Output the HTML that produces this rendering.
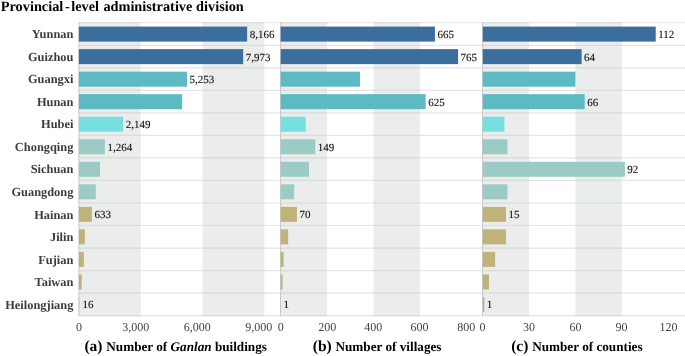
<!DOCTYPE html><html><head><meta charset="utf-8"><style>html,body{margin:0;padding:0;background:#fff;}body{width:685px;height:356px;overflow:hidden;}svg{display:block;will-change:transform;text-rendering:geometricPrecision;font-family:"Liberation Serif",serif;}</style></head><body>
<svg width="685" height="356" viewBox="0 0 685 356">
<rect x="0" y="0" width="685" height="356" fill="#fff"/>
<rect x="78.85" y="22.75" width="61.83" height="292.89" fill="#eaedec"/>
<rect x="202.51" y="22.75" width="61.83" height="292.89" fill="#eaedec"/>
<rect x="280.70" y="22.75" width="46.38" height="292.89" fill="#eaedec"/>
<rect x="373.46" y="22.75" width="46.38" height="292.89" fill="#eaedec"/>
<rect x="482.80" y="22.75" width="46.32" height="292.89" fill="#eaedec"/>
<rect x="575.44" y="22.75" width="46.32" height="292.89" fill="#eaedec"/>
<line x1="78.4" x2="685" y1="22.75" y2="22.75" stroke="#e5e5e5" stroke-width="1.2"/>
<line x1="78.85" x2="140.68" y1="22.75" y2="22.75" stroke="#dadddc" stroke-width="1.2"/>
<line x1="202.51" x2="264.34" y1="22.75" y2="22.75" stroke="#dadddc" stroke-width="1.2"/>
<line x1="280.70" x2="327.08" y1="22.75" y2="22.75" stroke="#dadddc" stroke-width="1.2"/>
<line x1="373.46" x2="419.84" y1="22.75" y2="22.75" stroke="#dadddc" stroke-width="1.2"/>
<line x1="482.80" x2="529.12" y1="22.75" y2="22.75" stroke="#dadddc" stroke-width="1.2"/>
<line x1="575.44" x2="621.76" y1="22.75" y2="22.75" stroke="#dadddc" stroke-width="1.2"/>
<line x1="78.4" x2="685" y1="45.28" y2="45.28" stroke="#e5e5e5" stroke-width="1.2"/>
<line x1="78.85" x2="140.68" y1="45.28" y2="45.28" stroke="#dadddc" stroke-width="1.2"/>
<line x1="202.51" x2="264.34" y1="45.28" y2="45.28" stroke="#dadddc" stroke-width="1.2"/>
<line x1="280.70" x2="327.08" y1="45.28" y2="45.28" stroke="#dadddc" stroke-width="1.2"/>
<line x1="373.46" x2="419.84" y1="45.28" y2="45.28" stroke="#dadddc" stroke-width="1.2"/>
<line x1="482.80" x2="529.12" y1="45.28" y2="45.28" stroke="#dadddc" stroke-width="1.2"/>
<line x1="575.44" x2="621.76" y1="45.28" y2="45.28" stroke="#dadddc" stroke-width="1.2"/>
<line x1="78.4" x2="685" y1="67.81" y2="67.81" stroke="#e5e5e5" stroke-width="1.2"/>
<line x1="78.85" x2="140.68" y1="67.81" y2="67.81" stroke="#dadddc" stroke-width="1.2"/>
<line x1="202.51" x2="264.34" y1="67.81" y2="67.81" stroke="#dadddc" stroke-width="1.2"/>
<line x1="280.70" x2="327.08" y1="67.81" y2="67.81" stroke="#dadddc" stroke-width="1.2"/>
<line x1="373.46" x2="419.84" y1="67.81" y2="67.81" stroke="#dadddc" stroke-width="1.2"/>
<line x1="482.80" x2="529.12" y1="67.81" y2="67.81" stroke="#dadddc" stroke-width="1.2"/>
<line x1="575.44" x2="621.76" y1="67.81" y2="67.81" stroke="#dadddc" stroke-width="1.2"/>
<line x1="78.4" x2="685" y1="90.34" y2="90.34" stroke="#e5e5e5" stroke-width="1.2"/>
<line x1="78.85" x2="140.68" y1="90.34" y2="90.34" stroke="#dadddc" stroke-width="1.2"/>
<line x1="202.51" x2="264.34" y1="90.34" y2="90.34" stroke="#dadddc" stroke-width="1.2"/>
<line x1="280.70" x2="327.08" y1="90.34" y2="90.34" stroke="#dadddc" stroke-width="1.2"/>
<line x1="373.46" x2="419.84" y1="90.34" y2="90.34" stroke="#dadddc" stroke-width="1.2"/>
<line x1="482.80" x2="529.12" y1="90.34" y2="90.34" stroke="#dadddc" stroke-width="1.2"/>
<line x1="575.44" x2="621.76" y1="90.34" y2="90.34" stroke="#dadddc" stroke-width="1.2"/>
<line x1="78.4" x2="685" y1="112.87" y2="112.87" stroke="#e5e5e5" stroke-width="1.2"/>
<line x1="78.85" x2="140.68" y1="112.87" y2="112.87" stroke="#dadddc" stroke-width="1.2"/>
<line x1="202.51" x2="264.34" y1="112.87" y2="112.87" stroke="#dadddc" stroke-width="1.2"/>
<line x1="280.70" x2="327.08" y1="112.87" y2="112.87" stroke="#dadddc" stroke-width="1.2"/>
<line x1="373.46" x2="419.84" y1="112.87" y2="112.87" stroke="#dadddc" stroke-width="1.2"/>
<line x1="482.80" x2="529.12" y1="112.87" y2="112.87" stroke="#dadddc" stroke-width="1.2"/>
<line x1="575.44" x2="621.76" y1="112.87" y2="112.87" stroke="#dadddc" stroke-width="1.2"/>
<line x1="78.4" x2="685" y1="135.40" y2="135.40" stroke="#e5e5e5" stroke-width="1.2"/>
<line x1="78.85" x2="140.68" y1="135.40" y2="135.40" stroke="#dadddc" stroke-width="1.2"/>
<line x1="202.51" x2="264.34" y1="135.40" y2="135.40" stroke="#dadddc" stroke-width="1.2"/>
<line x1="280.70" x2="327.08" y1="135.40" y2="135.40" stroke="#dadddc" stroke-width="1.2"/>
<line x1="373.46" x2="419.84" y1="135.40" y2="135.40" stroke="#dadddc" stroke-width="1.2"/>
<line x1="482.80" x2="529.12" y1="135.40" y2="135.40" stroke="#dadddc" stroke-width="1.2"/>
<line x1="575.44" x2="621.76" y1="135.40" y2="135.40" stroke="#dadddc" stroke-width="1.2"/>
<line x1="78.4" x2="685" y1="157.93" y2="157.93" stroke="#e5e5e5" stroke-width="1.2"/>
<line x1="78.85" x2="140.68" y1="157.93" y2="157.93" stroke="#dadddc" stroke-width="1.2"/>
<line x1="202.51" x2="264.34" y1="157.93" y2="157.93" stroke="#dadddc" stroke-width="1.2"/>
<line x1="280.70" x2="327.08" y1="157.93" y2="157.93" stroke="#dadddc" stroke-width="1.2"/>
<line x1="373.46" x2="419.84" y1="157.93" y2="157.93" stroke="#dadddc" stroke-width="1.2"/>
<line x1="482.80" x2="529.12" y1="157.93" y2="157.93" stroke="#dadddc" stroke-width="1.2"/>
<line x1="575.44" x2="621.76" y1="157.93" y2="157.93" stroke="#dadddc" stroke-width="1.2"/>
<line x1="78.4" x2="685" y1="180.46" y2="180.46" stroke="#e5e5e5" stroke-width="1.2"/>
<line x1="78.85" x2="140.68" y1="180.46" y2="180.46" stroke="#dadddc" stroke-width="1.2"/>
<line x1="202.51" x2="264.34" y1="180.46" y2="180.46" stroke="#dadddc" stroke-width="1.2"/>
<line x1="280.70" x2="327.08" y1="180.46" y2="180.46" stroke="#dadddc" stroke-width="1.2"/>
<line x1="373.46" x2="419.84" y1="180.46" y2="180.46" stroke="#dadddc" stroke-width="1.2"/>
<line x1="482.80" x2="529.12" y1="180.46" y2="180.46" stroke="#dadddc" stroke-width="1.2"/>
<line x1="575.44" x2="621.76" y1="180.46" y2="180.46" stroke="#dadddc" stroke-width="1.2"/>
<line x1="78.4" x2="685" y1="202.99" y2="202.99" stroke="#e5e5e5" stroke-width="1.2"/>
<line x1="78.85" x2="140.68" y1="202.99" y2="202.99" stroke="#dadddc" stroke-width="1.2"/>
<line x1="202.51" x2="264.34" y1="202.99" y2="202.99" stroke="#dadddc" stroke-width="1.2"/>
<line x1="280.70" x2="327.08" y1="202.99" y2="202.99" stroke="#dadddc" stroke-width="1.2"/>
<line x1="373.46" x2="419.84" y1="202.99" y2="202.99" stroke="#dadddc" stroke-width="1.2"/>
<line x1="482.80" x2="529.12" y1="202.99" y2="202.99" stroke="#dadddc" stroke-width="1.2"/>
<line x1="575.44" x2="621.76" y1="202.99" y2="202.99" stroke="#dadddc" stroke-width="1.2"/>
<line x1="78.4" x2="685" y1="225.52" y2="225.52" stroke="#e5e5e5" stroke-width="1.2"/>
<line x1="78.85" x2="140.68" y1="225.52" y2="225.52" stroke="#dadddc" stroke-width="1.2"/>
<line x1="202.51" x2="264.34" y1="225.52" y2="225.52" stroke="#dadddc" stroke-width="1.2"/>
<line x1="280.70" x2="327.08" y1="225.52" y2="225.52" stroke="#dadddc" stroke-width="1.2"/>
<line x1="373.46" x2="419.84" y1="225.52" y2="225.52" stroke="#dadddc" stroke-width="1.2"/>
<line x1="482.80" x2="529.12" y1="225.52" y2="225.52" stroke="#dadddc" stroke-width="1.2"/>
<line x1="575.44" x2="621.76" y1="225.52" y2="225.52" stroke="#dadddc" stroke-width="1.2"/>
<line x1="78.4" x2="685" y1="248.05" y2="248.05" stroke="#e5e5e5" stroke-width="1.2"/>
<line x1="78.85" x2="140.68" y1="248.05" y2="248.05" stroke="#dadddc" stroke-width="1.2"/>
<line x1="202.51" x2="264.34" y1="248.05" y2="248.05" stroke="#dadddc" stroke-width="1.2"/>
<line x1="280.70" x2="327.08" y1="248.05" y2="248.05" stroke="#dadddc" stroke-width="1.2"/>
<line x1="373.46" x2="419.84" y1="248.05" y2="248.05" stroke="#dadddc" stroke-width="1.2"/>
<line x1="482.80" x2="529.12" y1="248.05" y2="248.05" stroke="#dadddc" stroke-width="1.2"/>
<line x1="575.44" x2="621.76" y1="248.05" y2="248.05" stroke="#dadddc" stroke-width="1.2"/>
<line x1="78.4" x2="685" y1="270.58" y2="270.58" stroke="#e5e5e5" stroke-width="1.2"/>
<line x1="78.85" x2="140.68" y1="270.58" y2="270.58" stroke="#dadddc" stroke-width="1.2"/>
<line x1="202.51" x2="264.34" y1="270.58" y2="270.58" stroke="#dadddc" stroke-width="1.2"/>
<line x1="280.70" x2="327.08" y1="270.58" y2="270.58" stroke="#dadddc" stroke-width="1.2"/>
<line x1="373.46" x2="419.84" y1="270.58" y2="270.58" stroke="#dadddc" stroke-width="1.2"/>
<line x1="482.80" x2="529.12" y1="270.58" y2="270.58" stroke="#dadddc" stroke-width="1.2"/>
<line x1="575.44" x2="621.76" y1="270.58" y2="270.58" stroke="#dadddc" stroke-width="1.2"/>
<line x1="78.4" x2="685" y1="293.11" y2="293.11" stroke="#e5e5e5" stroke-width="1.2"/>
<line x1="78.85" x2="140.68" y1="293.11" y2="293.11" stroke="#dadddc" stroke-width="1.2"/>
<line x1="202.51" x2="264.34" y1="293.11" y2="293.11" stroke="#dadddc" stroke-width="1.2"/>
<line x1="280.70" x2="327.08" y1="293.11" y2="293.11" stroke="#dadddc" stroke-width="1.2"/>
<line x1="373.46" x2="419.84" y1="293.11" y2="293.11" stroke="#dadddc" stroke-width="1.2"/>
<line x1="482.80" x2="529.12" y1="293.11" y2="293.11" stroke="#dadddc" stroke-width="1.2"/>
<line x1="575.44" x2="621.76" y1="293.11" y2="293.11" stroke="#dadddc" stroke-width="1.2"/>
<line x1="78.4" x2="685" y1="315.64" y2="315.64" stroke="#e5e5e5" stroke-width="1.2"/>
<line x1="78.85" x2="140.68" y1="315.64" y2="315.64" stroke="#dadddc" stroke-width="1.2"/>
<line x1="202.51" x2="264.34" y1="315.64" y2="315.64" stroke="#dadddc" stroke-width="1.2"/>
<line x1="280.70" x2="327.08" y1="315.64" y2="315.64" stroke="#dadddc" stroke-width="1.2"/>
<line x1="373.46" x2="419.84" y1="315.64" y2="315.64" stroke="#dadddc" stroke-width="1.2"/>
<line x1="482.80" x2="529.12" y1="315.64" y2="315.64" stroke="#dadddc" stroke-width="1.2"/>
<line x1="575.44" x2="621.76" y1="315.64" y2="315.64" stroke="#dadddc" stroke-width="1.2"/>
<line x1="78.90" x2="78.90" y1="22.15" y2="316.24" stroke="#cbcbcb" stroke-width="1"/>
<line x1="280.50" x2="280.50" y1="22.15" y2="316.24" stroke="#cbcbcb" stroke-width="1"/>
<line x1="482.50" x2="482.50" y1="22.15" y2="316.24" stroke="#cbcbcb" stroke-width="1"/>
<rect x="78.85" y="26.60" width="168.30" height="15.0" fill="#3b6e9c"/>
<rect x="78.85" y="49.13" width="164.32" height="15.0" fill="#3b6e9c"/>
<rect x="78.85" y="71.66" width="108.26" height="15.0" fill="#5db9c2"/>
<rect x="78.85" y="94.19" width="103.32" height="15.0" fill="#5db9c2"/>
<rect x="78.85" y="116.72" width="44.29" height="15.0" fill="#77dfe0"/>
<rect x="78.85" y="139.25" width="26.05" height="15.0" fill="#9bcbc4"/>
<rect x="78.85" y="161.78" width="21.15" height="15.0" fill="#9bcbc4"/>
<rect x="78.85" y="184.31" width="16.94" height="15.0" fill="#9bcbc4"/>
<rect x="78.85" y="206.84" width="13.05" height="15.0" fill="#bfb37a"/>
<rect x="78.85" y="229.37" width="6.02" height="15.0" fill="#bfb37a"/>
<rect x="78.85" y="251.90" width="5.01" height="15.0" fill="#bfb37a"/>
<rect x="78.85" y="274.43" width="2.91" height="15.0" fill="#bfb37a"/>
<rect x="78.85" y="296.96" width="0.33" height="15.0" fill="#bfb37a"/>
<rect x="280.70" y="26.60" width="154.21" height="15.0" fill="#3b6e9c"/>
<rect x="280.70" y="49.13" width="177.40" height="15.0" fill="#3b6e9c"/>
<rect x="280.70" y="71.66" width="79.31" height="15.0" fill="#5db9c2"/>
<rect x="280.70" y="94.19" width="144.94" height="15.0" fill="#5db9c2"/>
<rect x="280.70" y="116.72" width="25.05" height="15.0" fill="#77dfe0"/>
<rect x="280.70" y="139.25" width="34.55" height="15.0" fill="#9bcbc4"/>
<rect x="280.70" y="161.78" width="28.29" height="15.0" fill="#9bcbc4"/>
<rect x="280.70" y="184.31" width="13.45" height="15.0" fill="#9bcbc4"/>
<rect x="280.70" y="206.84" width="16.23" height="15.0" fill="#bfb37a"/>
<rect x="280.70" y="229.37" width="7.42" height="15.0" fill="#bfb37a"/>
<rect x="280.70" y="251.90" width="2.90" height="15.0" fill="#bfb37a"/>
<rect x="280.70" y="274.43" width="1.86" height="15.0" fill="#bfb37a"/>
<rect x="280.70" y="296.96" width="0.23" height="15.0" fill="#bfb37a"/>
<rect x="482.80" y="26.60" width="172.93" height="15.0" fill="#3b6e9c"/>
<rect x="482.80" y="49.13" width="98.82" height="15.0" fill="#3b6e9c"/>
<rect x="482.80" y="71.66" width="92.64" height="15.0" fill="#5db9c2"/>
<rect x="482.80" y="94.19" width="101.90" height="15.0" fill="#5db9c2"/>
<rect x="482.80" y="116.72" width="21.62" height="15.0" fill="#77dfe0"/>
<rect x="482.80" y="139.25" width="24.70" height="15.0" fill="#9bcbc4"/>
<rect x="482.80" y="161.78" width="142.05" height="15.0" fill="#9bcbc4"/>
<rect x="482.80" y="184.31" width="24.70" height="15.0" fill="#9bcbc4"/>
<rect x="482.80" y="206.84" width="23.16" height="15.0" fill="#bfb37a"/>
<rect x="482.80" y="229.37" width="23.16" height="15.0" fill="#bfb37a"/>
<rect x="482.80" y="251.90" width="12.35" height="15.0" fill="#bfb37a"/>
<rect x="482.80" y="274.43" width="6.18" height="15.0" fill="#bfb37a"/>
<rect x="482.80" y="296.96" width="1.54" height="15.0" fill="#bfb37a"/>
<text x="249.65" y="38.00" font-size="11" fill="#111" stroke="#111" stroke-width="0.12">8,166</text>
<text x="245.67" y="60.53" font-size="11" fill="#111" stroke="#111" stroke-width="0.12">7,973</text>
<text x="189.61" y="83.06" font-size="11" fill="#111" stroke="#111" stroke-width="0.12">5,253</text>
<text x="125.64" y="128.12" font-size="11" fill="#111" stroke="#111" stroke-width="0.12">2,149</text>
<text x="107.40" y="150.65" font-size="11" fill="#111" stroke="#111" stroke-width="0.12">1,264</text>
<text x="94.40" y="218.24" font-size="11" fill="#111" stroke="#111" stroke-width="0.12">633</text>
<text x="82.48" y="308.36" font-size="11" fill="#111" stroke="#111" stroke-width="0.12">16</text>
<text x="437.41" y="38.00" font-size="11" fill="#111" stroke="#111" stroke-width="0.12">665</text>
<text x="460.60" y="60.53" font-size="11" fill="#111" stroke="#111" stroke-width="0.12">765</text>
<text x="428.14" y="105.59" font-size="11" fill="#111" stroke="#111" stroke-width="0.12">625</text>
<text x="317.75" y="150.65" font-size="11" fill="#111" stroke="#111" stroke-width="0.12">149</text>
<text x="299.43" y="218.24" font-size="11" fill="#111" stroke="#111" stroke-width="0.12">70</text>
<text x="283.43" y="308.36" font-size="11" fill="#111" stroke="#111" stroke-width="0.12">1</text>
<text x="658.23" y="38.00" font-size="11" fill="#111" stroke="#111" stroke-width="0.12">112</text>
<text x="584.12" y="60.53" font-size="11" fill="#111" stroke="#111" stroke-width="0.12">64</text>
<text x="587.20" y="105.59" font-size="11" fill="#111" stroke="#111" stroke-width="0.12">66</text>
<text x="627.35" y="173.18" font-size="11" fill="#111" stroke="#111" stroke-width="0.12">92</text>
<text x="508.46" y="218.24" font-size="11" fill="#111" stroke="#111" stroke-width="0.12">15</text>
<text x="486.84" y="308.36" font-size="11" fill="#111" stroke="#111" stroke-width="0.12">1</text>
<text x="73.4" y="38.30" font-size="12.4" font-weight="bold" fill="#3c3c3c" text-anchor="end">Yunnan</text>
<text x="73.4" y="60.83" font-size="12.4" font-weight="bold" fill="#3c3c3c" text-anchor="end">Guizhou</text>
<text x="73.4" y="83.36" font-size="12.4" font-weight="bold" fill="#3c3c3c" text-anchor="end">Guangxi</text>
<text x="73.4" y="105.89" font-size="12.4" font-weight="bold" fill="#3c3c3c" text-anchor="end">Hunan</text>
<text x="73.4" y="128.42" font-size="12.4" font-weight="bold" fill="#3c3c3c" text-anchor="end">Hubei</text>
<text x="73.4" y="150.95" font-size="12.4" font-weight="bold" fill="#3c3c3c" text-anchor="end">Chongqing</text>
<text x="73.4" y="173.48" font-size="12.4" font-weight="bold" fill="#3c3c3c" text-anchor="end">Sichuan</text>
<text x="73.4" y="196.01" font-size="12.4" font-weight="bold" fill="#3c3c3c" text-anchor="end">Guangdong</text>
<text x="73.4" y="218.54" font-size="12.4" font-weight="bold" fill="#3c3c3c" text-anchor="end">Hainan</text>
<text x="73.4" y="241.07" font-size="12.4" font-weight="bold" fill="#3c3c3c" text-anchor="end">Jilin</text>
<text x="73.4" y="263.60" font-size="12.4" font-weight="bold" fill="#3c3c3c" text-anchor="end">Fujian</text>
<text x="73.4" y="286.13" font-size="12.4" font-weight="bold" fill="#3c3c3c" text-anchor="end">Taiwan</text>
<text x="73.4" y="308.66" font-size="12.4" font-weight="bold" fill="#3c3c3c" text-anchor="end">Heilongjiang</text>
<text x="78.90" y="330.6" font-size="12" fill="#444" text-anchor="middle">0</text>
<text x="135.70" y="330.6" font-size="12" fill="#444" text-anchor="middle">3,000</text>
<text x="197.20" y="330.6" font-size="12" fill="#444" text-anchor="middle">6,000</text>
<text x="258.80" y="330.6" font-size="12" fill="#444" text-anchor="middle">9,000</text>
<text x="280.80" y="330.6" font-size="12" fill="#444" text-anchor="middle">0</text>
<text x="327.30" y="330.6" font-size="12" fill="#444" text-anchor="middle">200</text>
<text x="373.30" y="330.6" font-size="12" fill="#444" text-anchor="middle">400</text>
<text x="419.60" y="330.6" font-size="12" fill="#444" text-anchor="middle">600</text>
<text x="466.20" y="330.6" font-size="12" fill="#444" text-anchor="middle">800</text>
<text x="482.60" y="330.6" font-size="12" fill="#444" text-anchor="middle">0</text>
<text x="529.00" y="330.6" font-size="12" fill="#444" text-anchor="middle">30</text>
<text x="575.60" y="330.6" font-size="12" fill="#444" text-anchor="middle">60</text>
<text x="621.50" y="330.6" font-size="12" fill="#444" text-anchor="middle">90</text>
<text x="668.40" y="330.6" font-size="12" fill="#444" text-anchor="middle">120</text>
<text y="10.8" font-size="14.3" font-weight="bold" fill="#000"><tspan x="0.8">Provincial</tspan><tspan x="65.0">-</tspan><tspan x="71.2">level</tspan><tspan x="103.4">administrative</tspan><tspan x="196.1">division</tspan></text>
<text x="84.4" y="351.2" font-weight="bold" fill="#000"><tspan font-size="15.5">(a)</tspan><tspan font-size="13.2" x="106.3">Number of </tspan><tspan font-size="13.2" font-style="italic">Ganlan</tspan><tspan font-size="13.2"> buildings</tspan></text>
<text x="312.8" y="351.2" font-weight="bold" fill="#000"><tspan font-size="15.5">(b)</tspan><tspan font-size="13.2" x="335.5">Number of villages</tspan></text>
<text x="511.2" y="351.2" font-weight="bold" fill="#000"><tspan font-size="15.5">(c)</tspan><tspan font-size="13.2" x="532.2">Number of counties</tspan></text>
</svg></body></html>
